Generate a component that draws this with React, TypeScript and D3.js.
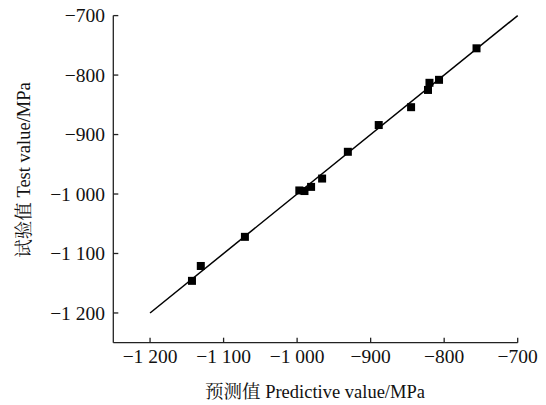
import React from 'react'
import * as d3 from 'd3'

// predicted vs. test values (MPa)
const predicted = [-756, -807, -820, -822, -845, -889, -931, -966, -981, -990, -997, -1071, -1131, -1143]
const tested = [-755, -808, -813, -825, -854, -884, -929, -974, -988, -995, -994, -1072, -1121, -1146]
const tickValues = [-1200, -1100, -1000, -900, -800, -700]
const fitLine = [-1200, -700]

const fmt = (v: number) => {
  const a = Math.abs(v)
  const s = a >= 1000 ? `${Math.floor(a / 1000)} ${String(a % 1000).padStart(3, '0')}` : String(a)
  return (v < 0 ? '\u2212' : '') + s
}

const FONT = "'Liberation Serif', 'Noto Serif CJK SC', serif"

export default function App() {
  const width = 546
  const height = 405
  const x = d3.scaleLinear().domain([-1250, -700]).range([113.3, 517.7])
  const y = d3.scaleLinear().domain([-1250, -700]).range([342.7, 15.6])
  const line = d3.line<number>().x(d => x(d)).y(d => y(d))
  const ms = 8
  const axisColor = '#222'

  return (
    <svg width={width} height={height} style={{ position: 'absolute', left: 0, top: 0, background: '#fff', fontFamily: FONT }}>
      {/* axes */}
      <line x1={x(-1250)} x2={x(-1250)} y1={y(-700)} y2={y(-1250)} stroke={axisColor} strokeWidth={1.3} />
      <line x1={x(-1250)} x2={x(-700)} y1={y(-1250)} y2={y(-1250)} stroke={axisColor} strokeWidth={1.3} />
      {tickValues.map(t => (
        <g key={'x' + t}>
          <line x1={x(t)} x2={x(t)} y1={y(-1250)} y2={y(-1250) - 5} stroke={axisColor} strokeWidth={1.3} />
          <text x={x(t)} y={363} textAnchor="middle" fontSize={19.5} fill="#111">{fmt(t)}</text>
        </g>
      ))}
      {tickValues.map(t => (
        <g key={'y' + t}>
          <line x1={x(-1250)} x2={x(-1250) + 5} y1={y(t)} y2={y(t)} stroke={axisColor} strokeWidth={1.3} />
          <text x={105} y={y(t)} dy="0.34em" textAnchor="end" fontSize={19.5} fill="#111">{fmt(t)}</text>
        </g>
      ))}
      {/* y = x line */}
      <path d={line(fitLine) || ''} fill="none" stroke="#000" strokeWidth={1.5} />
      {predicted.map((p, i) => (
        <rect key={i} x={x(p) - ms / 2} y={y(tested[i]) - ms / 2} width={ms} height={ms} fill="#000" />
      ))}
      {/* titles */}
      <text x={315} y={398} textAnchor="middle" fontSize={18.5} fill="#111">预测值 Predictive value/MPa</text>
      <text transform="translate(30,170) rotate(-90)" textAnchor="middle" fontSize={18.5} fill="#111">试验值 Test value/MPa</text>
    </svg>
  )
}
